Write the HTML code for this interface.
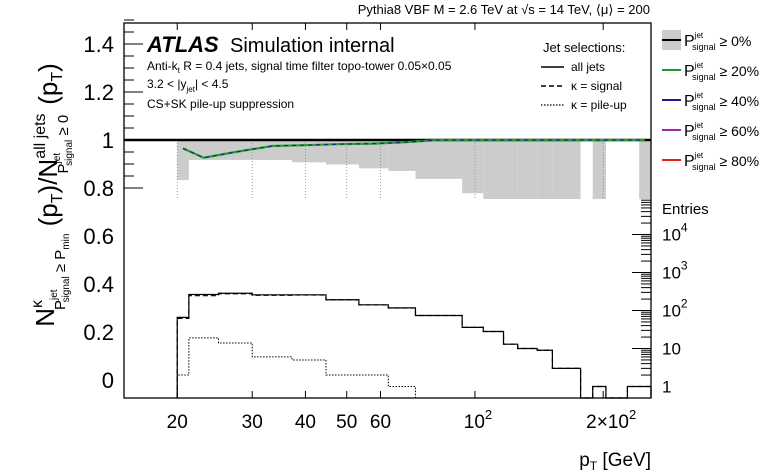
<!DOCTYPE html>
<html><head><meta charset="utf-8"><style>
html,body{margin:0;padding:0;background:#fff;}
svg{display:block;font-family:"Liberation Sans",Arial,sans-serif;}
</style></head><body>
<svg id="c" width="777" height="474" viewBox="0 0 777 474" xmlns="http://www.w3.org/2000/svg">
<text x="650" y="14" font-size="13" text-anchor="end">Pythia8 VBF M = 2.6 TeV at √s = 14 TeV, ⟨μ⟩ = 200</text>
<g id="plot"></g>
<rect x="124" y="23" width="527" height="375" fill="none" stroke="#000" stroke-width="1.3"/>
<g>
<text x="147" y="52" font-size="22" font-weight="bold" font-style="italic">ATLAS</text>
<text x="230" y="52" font-size="20">Simulation internal</text>
<text x="147" y="70" font-size="12">Anti-k<tspan font-size="8" dy="3">t</tspan><tspan dy="-3"> R = 0.4 jets, signal time filter topo-tower 0.05×0.05</tspan></text>
<text x="147" y="88" font-size="12">3.2 &lt; |y<tspan font-size="8" dy="4">jet</tspan><tspan dy="-4">| &lt; 4.5</tspan></text>
<text x="147" y="108" font-size="12">CS+SK pile-up suppression</text>
</g>
<g>
<text x="543" y="52" font-size="13">Jet selections:</text>
<line x1="541" y1="67" x2="564" y2="67" stroke="#000" stroke-width="1.5"/><text x="571" y="71" font-size="12">all jets</text>
<line x1="541" y1="86" x2="564" y2="86" stroke="#000" stroke-width="1.5" stroke-dasharray="5,3"/><text x="571" y="90" font-size="12">κ = signal</text>
<line x1="541" y1="105" x2="564" y2="105" stroke="#000" stroke-width="1.2" stroke-dasharray="1.5,1.5"/><text x="571" y="109" font-size="12">κ = pile-up</text>
</g>
<g id="rleg"></g>
<text x="662" y="214" font-size="15">Entries</text>
<text x="651" y="466" font-size="19" text-anchor="end">p<tspan font-size="12" dy="4">T</tspan><tspan dy="-4"> [GeV]</tspan></text>
<text transform="translate(54,195) rotate(-90)" font-size="26" text-anchor="middle">N<tspan font-size="16" dy="-12">κ</tspan><tspan font-size="15" dy="23" dx="-10">P</tspan><tspan font-size="10" dy="-8">jet</tspan><tspan font-size="10" dy="12" dx="-13">signal</tspan><tspan font-size="15" dy="-4"> ≥ P</tspan><tspan font-size="10" dy="4">min</tspan><tspan font-size="26" dy="-12"> (p</tspan><tspan font-size="16" dy="5">T</tspan><tspan font-size="26" dy="-5">)/N</tspan><tspan font-size="16" dy="-12">all jets</tspan><tspan font-size="15" dy="23" dx="-60">P</tspan><tspan font-size="10" dy="-8">jet</tspan><tspan font-size="10" dy="12" dx="-13">signal</tspan><tspan font-size="15" dy="-4"> ≥ 0</tspan><tspan font-size="26" dy="-11" dx="10">(p</tspan><tspan font-size="16" dy="5">T</tspan><tspan font-size="26" dy="-5">)</tspan></text>
</svg>
<script>
const binEdges=[20,21.3,25,30,37.2,44.7,53.4,62.6,72.5,93.3,104.6,116.7,126,140,152,177,189,203,228,243,259];
const entriesAll=[66,264,285,259,259,192,141,117,74,36,28,13,10,9,3,0,1,0,1,1];
const entriesSignal=[62,245,275,252,255,190,140,116,74,36,28,13,10,9,3,0,1,0,1,1];
const entriesPileup=[2,19,14,6,5,2,2,1,0,0,0,0,0,0,0,0,0,0,0,0];
const bandLow=[0.833,0.917,0.917,0.917,0.907,0.898,0.882,0.871,0.838,0.778,0.754,0.754,0.754,0.754,0.754,null,0.754,null,null,0.754];
const ratio20=[0.965,0.926,0.95,0.975,0.979,0.983,0.985,0.99,1.0,1.0,1.0,1.0,1.0,1.0,1.0,1.0,1.0,1.0,1.0,1.0];
const yTicks=[0,0.2,0.4,0.6,0.8,1,1.2,1.4];
const yTickLabels=["0","0.2","0.4","0.6","0.8","1","1.2","1.4"];
const xTicks=[20,30,40,50,60,100,200];
const xTickLabels=["20","30","40","50","60","10|2","2×10|2"];
const legendLabels=["0%","20%","40%","60%","80%"];
const legendColors=["#000","#1a9a2a","#1a1a9a","#b020b0","#e02020"];

const NS="http://www.w3.org/2000/svg";
const X0=124,X1=651,LMIN=Math.log10(15),LMAX=Math.log10(259);
function sx(p){return X0+(Math.log10(p)-LMIN)/(LMAX-LMIN)*(X1-X0);}
function sy(v){return 380-240*v;}
function se(n){return n<=0?398:Math.min(398,386.5-38*Math.log10(n));}
const plot=document.getElementById('plot');
function mk(tag,attrs,parent){const e=document.createElementNS(NS,tag);for(const k in attrs)e.setAttribute(k,attrs[k]);(parent||plot).appendChild(e);return e;}
function supText(t,s,small){const p=s.split('|');t.textContent=p[0];if(p.length>1){const ts=document.createElementNS(NS,'tspan');ts.setAttribute('font-size',small);ts.setAttribute('dy','-9');ts.textContent=p[1];t.appendChild(ts);}}

bandLow.forEach((v,i)=>{if(v===null)return;
 const r=mk('rect',{x:sx(binEdges[i]),y:sy(1),width:sx(binEdges[i+1])-sx(binEdges[i]),height:sy(v)-sy(1),fill:'#cccccc'});
 
 
});
xTicks.forEach(t=>{const l=mk('line',{x1:sx(t),x2:sx(t),y1:sy(1),y2:198,stroke:'#888','stroke-width':0.8,'stroke-dasharray':'1,2'});
 
 });
const u=mk('line',{x1:X0,x2:X1,y1:sy(1),y2:sy(1),stroke:'#000','stroke-width':2.5});


let pts=ratio20.map((v,i)=>{const c=Math.sqrt(binEdges[i]*binEdges[i+1]);return sx(c)+','+sy(v);}).join(' ');
const g1=mk('polyline',{points:pts,fill:'none',stroke:'#22a030','stroke-width':2.2});


const g2=mk('polyline',{points:pts,fill:'none',stroke:'#1a2a7a','stroke-width':1.2,'stroke-dasharray':'4,4'});


function hist(vals,style,name){let d='';
 vals.forEach((n,i)=>{const y=se(n),xa=sx(binEdges[i]),xb=sx(binEdges[i+1]);
  d+=(i===0?'M'+xa+','+398:'')+' L'+xa+','+y+' L'+xb+','+y;});
 d+=' L'+sx(binEdges[binEdges.length-1])+',398';
 const p=mk('path',Object.assign({d:d,fill:'none',stroke:'#000'},style));
 
 }
hist(entriesSignal,{'stroke-width':1.2,'stroke-dasharray':'5,3'},'hist-signal');
hist(entriesAll,{'stroke-width':1.2},'hist-all-jets');
hist(entriesPileup,{'stroke-width':1,'stroke-dasharray':'1.5,1.5'},'hist-pileup');
for(let v=0.8;v<=1.5001;v+=0.05){const major=Math.abs(v*5-Math.round(v*5))<1e-6;
 const t=mk('line',{x1:X0,x2:X0+(major?19:10),y1:sy(v),y2:sy(v),stroke:'#000','stroke-width':1});
 
 }
yTicks.forEach((v,i)=>{const t=mk('text',{x:114,y:sy(v)+8,'font-size':22,'text-anchor':'end'});t.textContent=yTickLabels[i];
 
 });
xTicks.forEach((v,i)=>{
 const a=mk('line',{x1:sx(v),x2:sx(v),y1:23,y2:30,stroke:'#000'});
 
 
 const b=mk('line',{x1:sx(v),x2:sx(v),y1:398,y2:391,stroke:'#000'});
 
 
 const t=mk('text',{x:sx(v)+(i===6?8:(i===5?3:0)),y:428,'font-size':19,'text-anchor':'middle'});supText(t,xTickLabels[i],13);
 
 });
for(let d=0;d<5;d++){for(let m=1;m<10;m++){const n=m*Math.pow(10,d);const y=se(n);if(y<200)continue;
 const t=mk('line',{x1:X1,x2:X1-(m===1?19:10),y1:y,y2:y,stroke:'#000'});
 
 }}
["1","10","10|2","10|3","10|4"].forEach((s,d)=>{const t=mk('text',{x:662,y:se(Math.pow(10,d))+6,'font-size':17});supText(t,s,12);
 
 });
const rl=document.getElementById('rleg');
legendLabels.forEach((s,i)=>{const y=40+i*30;
 if(i===0){const r=mk('rect',{x:662,y:y-10,width:19,height:20,fill:'#cccccc'},rl);
  
  }
 const l=mk('line',{x1:662,x2:681,y1:y,y2:y,stroke:legendColors[i],'stroke-width':2},rl);
 
 
 const t=mk('text',{x:684,y:y+6,'font-size':16},rl);
 
 
 t.innerHTML='P<tspan font-size="8" dy="-8">jet</tspan><tspan font-size="9" dy="12" dx="-11">signal</tspan><tspan dy="-4" font-size="14"> ≥ '+s+'</tspan>';});
</script>
</body></html>
